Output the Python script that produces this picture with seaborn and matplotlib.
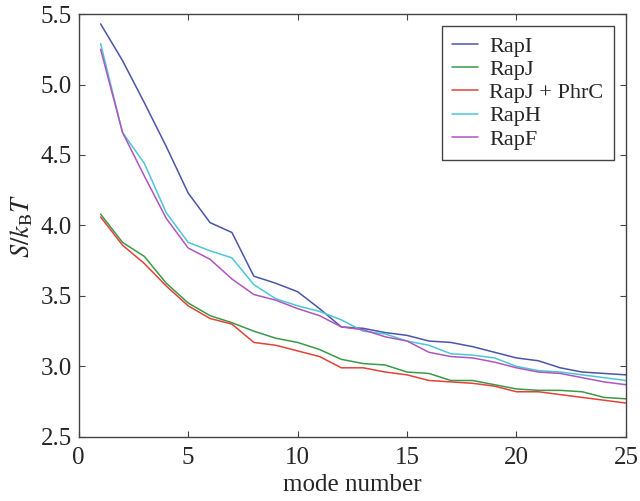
import numpy as np
import pandas as pd
import seaborn as sns
import matplotlib.pyplot as plt

modes = list(range(1, 26))
names = ["RapI", "RapJ", "RapJ + PhrC", "RapH", "RapF"]

rap_i = [5.43, 5.17, 4.87, 4.56, 4.23, 4.02, 3.95, 3.64, 3.59, 3.53, 3.41, 3.28, 3.27, 3.24, 3.22,
         3.18, 3.17, 3.14, 3.10, 3.06, 3.04, 2.99, 2.96, 2.95, 2.94]
rap_j = [4.08, 3.88, 3.78, 3.59, 3.45, 3.36, 3.31, 3.25, 3.20, 3.17, 3.12, 3.05, 3.02, 3.01, 2.96,
         2.95, 2.90, 2.90, 2.87, 2.84, 2.83, 2.83, 2.82, 2.78, 2.77]
rap_j_phrc = [4.06, 3.86, 3.73, 3.57, 3.43, 3.34, 3.30, 3.17, 3.15, 3.11, 3.07, 2.99, 2.99, 2.96, 2.94,
              2.90, 2.89, 2.88, 2.86, 2.82, 2.82, 2.80, 2.78, 2.76, 2.74]
rap_h = [5.29, 4.66, 4.44, 4.09, 3.88, 3.82, 3.77, 3.58, 3.48, 3.43, 3.39, 3.33, 3.25, 3.23, 3.18,
         3.15, 3.09, 3.08, 3.06, 3.00, 2.97, 2.96, 2.94, 2.92, 2.90]
rap_f = [5.25, 4.66, 4.35, 4.05, 3.84, 3.76, 3.62, 3.51, 3.47, 3.41, 3.36, 3.28, 3.26, 3.21, 3.18,
         3.10, 3.07, 3.06, 3.03, 2.99, 2.96, 2.95, 2.92, 2.89, 2.87]

colors = ["#4a55a8", "#3a9a48", "#e2423b", "#4cc6d6", "#b055bd"]

# long-form table for seaborn
df = pd.DataFrame({
    "mode": modes * 5,
    "S": rap_i + rap_j + rap_j_phrc + rap_h + rap_f,
    "protein": sum([[n] * len(modes) for n in names], []),
})

sns.set_style("ticks")
plt.rcParams['font.family'] = ['Liberation Serif', 'DejaVu Serif']
plt.rcParams['mathtext.fontset'] = 'stix'

fig, ax = plt.subplots(figsize=(6.4, 5.01), dpi=100)
fig.subplots_adjust(left=0.123, right=0.978, top=0.972, bottom=0.128)

sns.lineplot(data=df, x="mode", y="S", hue="protein", hue_order=names,
             palette=colors, ax=ax, linewidth=1.1)

ax.set_xlim(0, 25)
ax.set_ylim(2.5, 5.5)
ax.set_xticks([0, 5, 10, 15, 20, 25])
ax.set_yticks(np.arange(2.5, 5.51, 0.5))
ax.tick_params(direction='in', top=True, right=True, labelsize=18, length=4, color='#444444')
ax.tick_params(axis='x', pad=7)
ax.tick_params(axis='y', pad=5)
for s in ax.spines.values():
    s.set_color('#444444')
    s.set_linewidth(1.0)

ax.set_xlabel("mode number", fontsize=18, labelpad=4)
ax.set_ylabel(r"$S/k_{\rm B}T$", fontsize=19, labelpad=4)

leg = ax.legend(title=None, loc='upper right', fontsize=16, fancybox=False,
                edgecolor='#444444', framealpha=1, handlelength=1.2, handletextpad=0.5,
                borderpad=0.45, labelspacing=0.12, borderaxespad=0.55)
leg.get_frame().set_linewidth(1.0)

fig.savefig("out.png", dpi=100)
